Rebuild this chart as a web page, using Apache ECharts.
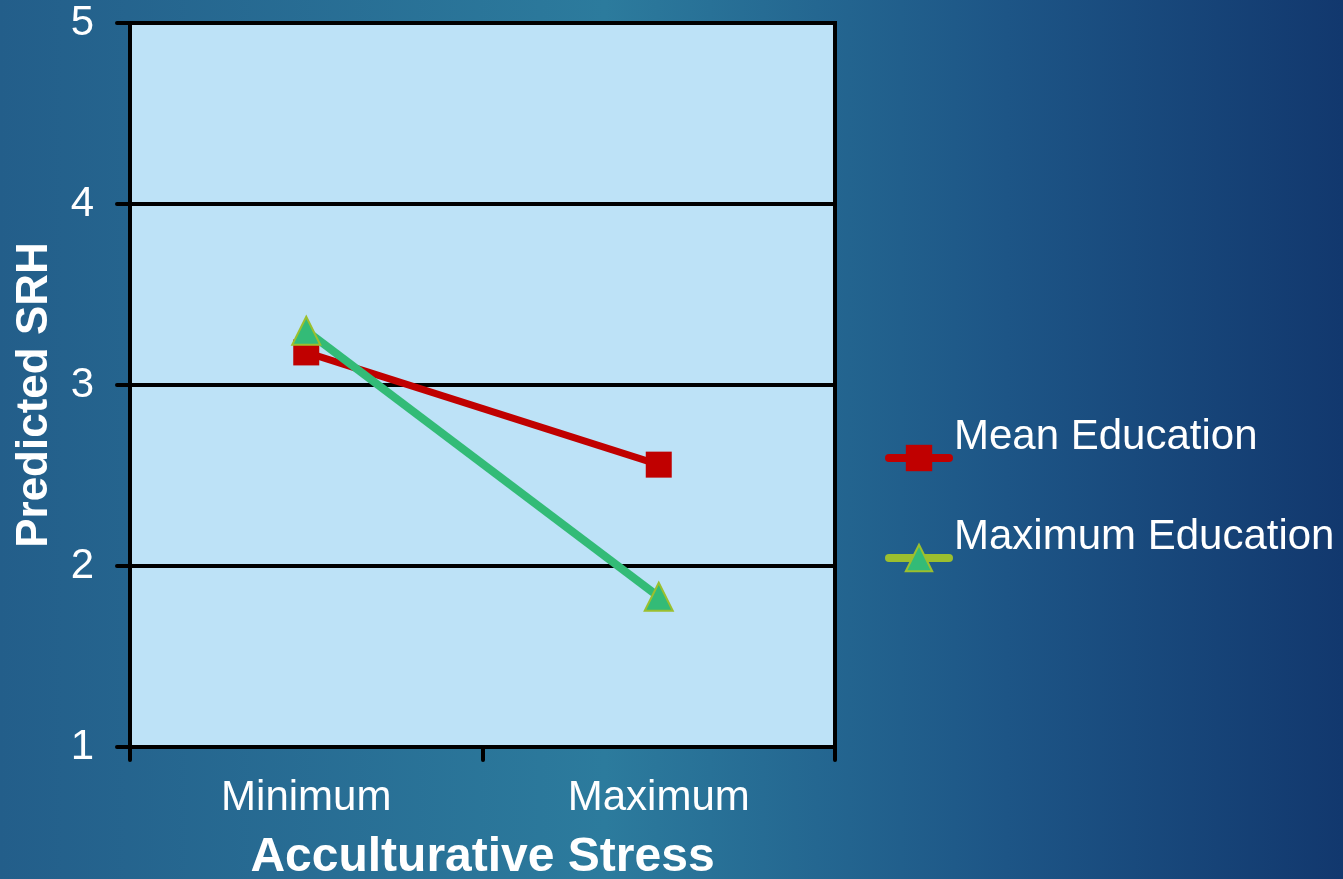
<!DOCTYPE html>
<html>
<head>
<meta charset="utf-8">
<script src="https://cdn.jsdelivr.net/npm/echarts@6/dist/echarts.min.js"></script>
<style>
  html, body { margin: 0; padding: 0; }
  #chart { width: 1343px; height: 879px; }
</style>
</head>
<body>
<div id="chart"></div>
<script>
// data
const categories = ["Minimum", "Maximum"];
const meanEducation = [3.18, 2.56];
const maxEducation = [3.30, 1.83];
const yTicks = [1, 2, 3, 4, 5];

const chart = echarts.init(document.getElementById("chart"));
const font = "Liberation Sans, Arial, sans-serif";

chart.setOption({
  backgroundColor: new echarts.graphic.LinearGradient(0, 0, 1, 0, [
    { offset: 0, color: "#235e8a" },
    { offset: 0.45, color: "#2c7b9d" },
    { offset: 0.75, color: "#1d5586" },
    { offset: 1, color: "#12386e" },
  ]),
  textStyle: { fontFamily: font },
  grid: {
    left: 130,
    right: 508,
    top: 23,
    bottom: 132,
    outerBoundsMode: "none",
    containLabel: false,
    show: true,
    backgroundColor: "#bde2f7",
    borderColor: "#000",
    borderWidth: 4,
  },
  legend: {
    orient: "vertical",
    left: 880,
    top: 411,
    itemWidth: 60,
    itemHeight: 33,
    itemGap: 16,
    formatter: (name) => name + "\n ",
    textStyle: {
      color: "#fff",
      fontSize: 42,
      lineHeight: 42,
      fontFamily: font,
    },
    data: [
      { name: "Mean Education", lineStyle: { color: "#c00000", width: 8, cap: "round" } },
      { name: "Maximum Education", lineStyle: { color: "#9cbf2e", width: 8, cap: "round" } },
    ],
  },
  xAxis: {
    type: "category",
    data: categories,
    boundaryGap: true,
    name: "Acculturative Stress",
    nameLocation: "middle",
    nameGap: 87,
    nameTextStyle: { color: "#fff", fontSize: 48, fontWeight: "bold" },
    axisLine: { lineStyle: { color: "#000", width: 4 } },
    axisTick: {
      show: true,
      alignWithLabel: false,
      interval: 0,
      length: 13,
      lineStyle: { color: "#000", width: 4, cap: "round" },
    },
    axisLabel: { color: "#fff", fontSize: 42, margin: 30 },
  },
  yAxis: {
    type: "value",
    min: yTicks[0],
    max: yTicks[yTicks.length - 1],
    interval: 1,
    name: "Predicted SRH",
    nameLocation: "middle",
    nameGap: 73,
    nameTextStyle: { color: "#fff", fontSize: 44, fontWeight: "bold", padding: [0, 20, 0, 0] },
    axisLine: { show: true, lineStyle: { color: "#000", width: 4 } },
    axisTick: { show: true, length: 13, lineStyle: { color: "#000", width: 4, cap: "round" } },
    axisLabel: { color: "#fff", fontSize: 42, margin: 36 },
    splitLine: { lineStyle: { color: "#000", width: 4 } },
  },
  series: [
    {
      name: "Mean Education",
      type: "line",
      data: meanEducation,
      symbol: "rect",
      symbolSize: 26,
      lineStyle: { color: "#c00000", width: 7 },
      itemStyle: { color: "#c00000" },
      z: 2,
    },
    {
      name: "Maximum Education",
      type: "line",
      data: maxEducation,
      symbol: "triangle",
      symbolSize: 28,
      lineStyle: { color: "#33bb77", width: 8 },
      itemStyle: { color: "#33bb77", borderColor: "#9cbf2e", borderWidth: 2 },
      z: 3,
    },
  ],
});
</script>
</body>
</html>
